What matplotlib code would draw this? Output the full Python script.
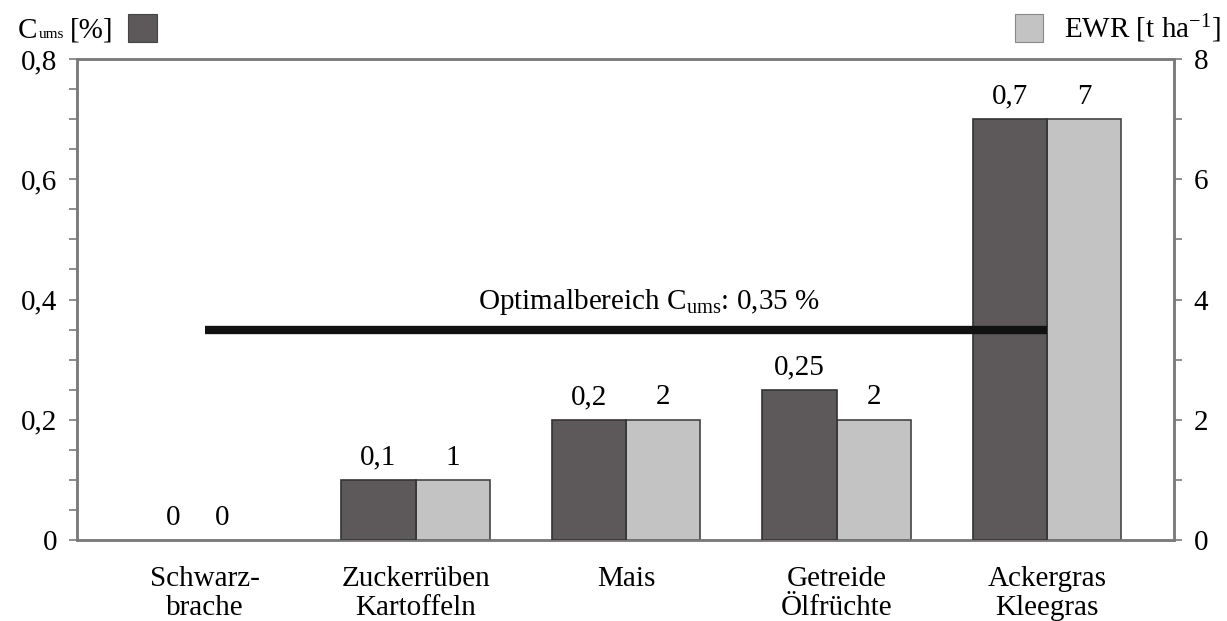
import matplotlib
matplotlib.use("Agg")
import matplotlib.pyplot as plt
from matplotlib.patches import Rectangle
from matplotlib.ticker import MultipleLocator
import numpy as np

plt.rcParams['font.family'] = ['Liberation Serif', 'DejaVu Serif']
plt.rcParams['mathtext.fontset'] = 'custom'
plt.rcParams['mathtext.rm'] = 'Liberation Serif'
plt.rcParams['mathtext.it'] = 'Liberation Serif:italic'

categories = ["Schwarz-\nbrache", "Zuckerrüben\nKartoffeln", "Mais", "Getreide\nÖlfrüchte", "Ackergras\nKleegras"]
c_ums = [0, 0.1, 0.2, 0.25, 0.7]
ewr = [0, 1, 2, 2, 7]
c_ums_labels = ["0", "0,1", "0,2", "0,25", "0,7"]
ewr_labels = ["0", "1", "2", "2", "7"]
optimal = 0.35
left_ticks = ["0", "0,2", "0,4", "0,6", "0,8"]
right_ticks = ["0", "2", "4", "6", "8"]

dark = '#5d595a'
light = '#c3c3c3'
spine_col = '#7a7a7a'
fs = 21

fig = plt.figure(figsize=(12.27, 6.21), dpi=100)
ax = fig.add_axes([0.0628, 0.1304, 0.894, 0.7746])
ax2 = ax.twinx()

x = np.arange(len(categories))
w = 0.352

ax.bar(x - w/2, c_ums, width=w, color=dark, edgecolor='#333333',
       linewidth=[0 if v == 0 else 1.2 for v in c_ums], zorder=3)
ax2.bar(x + w/2, ewr, width=w, color=light, edgecolor='#444444',
        linewidth=[0 if v == 0 else 1.2 for v in ewr], zorder=3)

ax.set_xlim(-0.608, 4.603)
ax.set_ylim(0, 0.8)
ax2.set_ylim(0, 8)

ax2.set_zorder(1)
ax.set_zorder(2)
ax.patch.set_visible(False)
ax.plot([0, 4], [optimal, optimal], color='#111111', linewidth=6, solid_capstyle='butt', zorder=5)
ax.text(2.11, 0.385, r"Optimalbereich C$_{\mathrm{ums}}$: 0,35 %", ha='center', va='baseline', fontsize=fs, zorder=6)

for i in range(len(categories)):
    dx = 0.153 if c_ums[i] == 0 else w/2
    ax.annotate(c_ums_labels[i], (x[i] - dx, c_ums[i]), xytext=(0, 11), textcoords='offset points',
                ha='center', va='baseline', fontsize=fs, zorder=6)
    dx2 = 0.08 if ewr[i] == 0 else w/2
    ax2.annotate(ewr_labels[i], (x[i] + dx2, ewr[i]), xytext=(0, 11), textcoords='offset points',
                 ha='center', va='baseline', fontsize=fs, zorder=6)

ax.set_yticks([0, 0.2, 0.4, 0.6, 0.8])
ax.set_yticklabels(left_ticks)
ax.yaxis.set_minor_locator(MultipleLocator(0.05))
ax2.set_yticks([0, 2, 4, 6, 8])
ax2.set_yticklabels(right_ticks)
ax2.yaxis.set_minor_locator(MultipleLocator(1))

ax.set_xticks(x)
ax.set_xticklabels(categories, fontsize=fs, linespacing=1.15)
ax.tick_params(axis='x', length=0, pad=19)
ax.tick_params(axis='y', which='both', direction='out', length=6, width=1.2, color=spine_col, labelsize=fs, pad=8)
ax2.tick_params(axis='y', which='both', direction='out', length=6, width=1.2, color=spine_col, labelsize=fs, pad=8)

for a in (ax, ax2):
    for s in a.spines.values():
        s.set_color(spine_col)
        s.set_linewidth(1.8)

fig.patches.append(Rectangle((0.1043, 0.9324), 0.0236, 0.0451, transform=fig.transFigure,
                             facecolor=dark, edgecolor='#444444', linewidth=0.8))
fig.patches.append(Rectangle((0.8272, 0.9324), 0.0228, 0.0451, transform=fig.transFigure,
                             facecolor=light, edgecolor='#888888', linewidth=0.8))
base_y = 0.939
fig.text(18 / 1227, base_y, "C", fontsize=fs, ha='left', va='baseline')
fig.text(39 / 1227, base_y, "ums", fontsize=11, ha='left', va='baseline')
fig.text(70 / 1227, base_y, "[%]", fontsize=fs, ha='left', va='baseline')
fig.text(0.9945, base_y, r"EWR [t ha$^{\mathrm{-1}}$]", fontsize=fs, ha='right', va='baseline')

fig.savefig("out.png", dpi=100)
